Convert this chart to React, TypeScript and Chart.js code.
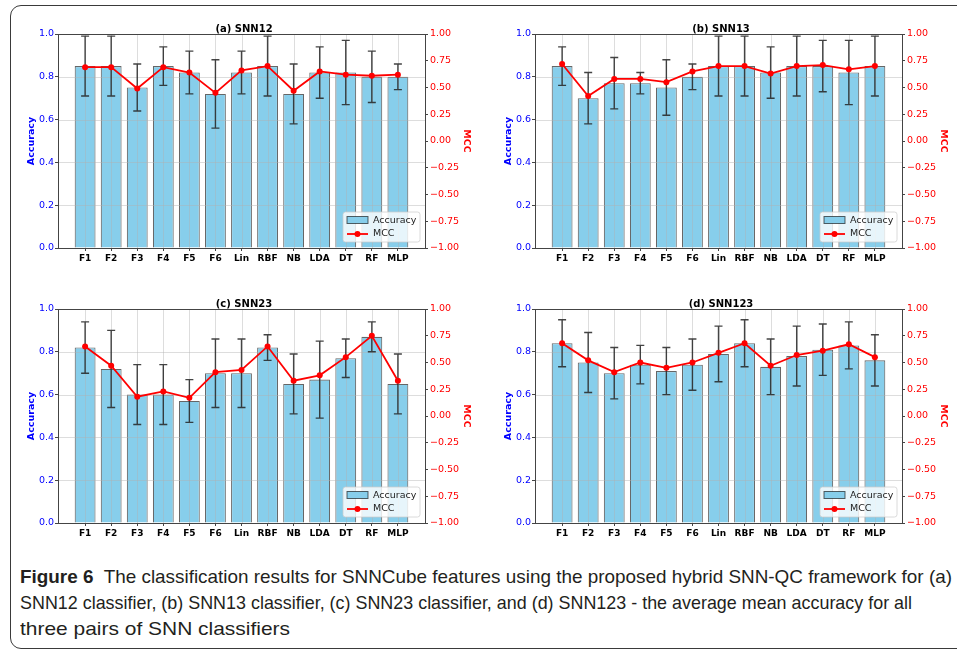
import React, { useEffect, useLayoutEffect, useRef } from 'react';
import { Chart, registerables } from 'chart.js';

Chart.register(...registerables);

// ---------------- data ----------------
const categories = ['F1', 'F2', 'F3', 'F4', 'F5', 'F6', 'Lin', 'RBF', 'NB', 'LDA', 'DT', 'RF', 'MLP'];

const accSNN12 = [0.85, 0.85, 0.75, 0.85, 0.82, 0.72, 0.82, 0.85, 0.72, 0.82, 0.82, 0.80, 0.80];
const errSNN12 = [0.14, 0.14, 0.11, 0.09, 0.10, 0.16, 0.10, 0.14, 0.14, 0.12, 0.15, 0.12, 0.06];
const mccSNN12 = [0.69, 0.69, 0.49, 0.69, 0.64, 0.45, 0.66, 0.70, 0.47, 0.65, 0.62, 0.61, 0.62];

const accSNN13 = [0.85, 0.70, 0.77, 0.77, 0.75, 0.80, 0.85, 0.85, 0.82, 0.85, 0.85, 0.82, 0.85];
const errSNN13 = [0.09, 0.12, 0.12, 0.05, 0.13, 0.06, 0.14, 0.14, 0.12, 0.14, 0.12, 0.15, 0.14];
const mccSNN13 = [0.72, 0.42, 0.58, 0.58, 0.55, 0.65, 0.70, 0.70, 0.63, 0.70, 0.71, 0.67, 0.70];

const accSNN23 = [0.82, 0.72, 0.60, 0.60, 0.57, 0.70, 0.70, 0.82, 0.65, 0.67, 0.77, 0.87, 0.65];
const errSNN23 = [0.12, 0.18, 0.14, 0.14, 0.10, 0.16, 0.16, 0.06, 0.14, 0.18, 0.09, 0.07, 0.14];
const mccSNN23 = [0.65, 0.47, 0.18, 0.23, 0.17, 0.41, 0.43, 0.65, 0.33, 0.38, 0.55, 0.75, 0.33];

const accSNN123 = [0.84, 0.75, 0.70, 0.74, 0.71, 0.74, 0.79, 0.84, 0.73, 0.78, 0.81, 0.83, 0.76];
const errSNN123 = [0.11, 0.14, 0.12, 0.09, 0.11, 0.12, 0.13, 0.11, 0.13, 0.14, 0.12, 0.11, 0.12];
const mccSNN123 = [0.68, 0.52, 0.41, 0.50, 0.45, 0.50, 0.59, 0.68, 0.47, 0.57, 0.61, 0.67, 0.55];

const panelTitles = ['(a) SNN12', '(b) SNN13', '(c) SNN23', '(d) SNN123'];
const seriesNames = ['Accuracy', 'MCC'];
const leftAxisTitle = 'Accuracy';
const rightAxisTitle = 'MCC';

const captionBold = 'Figure 6';
const captionLines = [
  '  The classification results for SNNCube features using the proposed hybrid SNN-QC framework for (a)',
  'SNN12 classifier, (b) SNN13 classifier, (c) SNN23 classifier, and (d) SNN123 - the average mean accuracy for all',
  'three pairs of SNN classifiers',
];

// ---------------- styling ----------------
const FONT = "'DejaVu Sans', sans-serif";
const BAR_FILL = '#87CEEB';
const BAR_EDGE = 'rgba(0,0,0,0.6)';
const GRID = 'rgba(176,176,176,0.55)';
const SPINE = '#444444';

// grid (above bars) + error bars, drawn right after the bar dataset
const errorBarPlugin = {
  id: 'errbars',
  afterDatasetDraw(chart: any, args: any) {
    if (args.index !== 0) return;
    const { ctx, chartArea, scales } = chart;
    const xs = scales.x;
    const ys = scales.y;
    ctx.save();
    ctx.beginPath();
    ctx.rect(chartArea.left, chartArea.top, chartArea.right - chartArea.left, chartArea.bottom - chartArea.top);
    ctx.clip();
    ctx.strokeStyle = GRID;
    ctx.lineWidth = 0.8;
    xs.ticks.forEach((t: any) => {
      const px = Math.round(xs.getPixelForValue(t.value)) + 0.5;
      ctx.beginPath();
      ctx.moveTo(px, chartArea.top);
      ctx.lineTo(px, chartArea.bottom);
      ctx.stroke();
    });
    ys.ticks.forEach((t: any) => {
      const py = Math.round(ys.getPixelForValue(t.value)) + 0.5;
      ctx.beginPath();
      ctx.moveTo(chartArea.left, py);
      ctx.lineTo(chartArea.right, py);
      ctx.stroke();
    });
    ctx.restore();

    const ds = chart.data.datasets[0];
    const errs: number[] = ds.errors;
    ctx.save();
    ctx.strokeStyle = 'rgba(35,35,35,0.85)';
    ctx.lineWidth = 1.4;
    ds.data.forEach((p: any, i: number) => {
      const px = xs.getPixelForValue(p.x);
      const yTop = ys.getPixelForValue(p.y + errs[i]);
      const yBot = ys.getPixelForValue(p.y - errs[i]);
      ctx.beginPath();
      ctx.moveTo(px, yTop);
      ctx.lineTo(px, yBot);
      ctx.moveTo(px - 4, yTop);
      ctx.lineTo(px + 4, yTop);
      ctx.moveTo(px - 4, yBot);
      ctx.lineTo(px + 4, yBot);
      ctx.stroke();
    });
    ctx.restore();
  },
};

// spines + matplotlib-like legend box
const frameLegendPlugin = {
  id: 'frameLegend',
  afterDraw(chart: any) {
    const { ctx, chartArea } = chart;
    const { left, right, top, bottom } = chartArea;
    ctx.save();
    ctx.strokeStyle = SPINE;
    ctx.lineWidth = 1;
    ctx.strokeRect(Math.round(left) + 0.5, Math.round(top) + 0.5, Math.round(right - left), Math.round(bottom - top));

    const w = 77;
    const h = 30;
    const x0 = right - 5 - w;
    const y0 = bottom - 6 - h;
    ctx.beginPath();
    (ctx as any).roundRect(x0, y0, w, h, 2.5);
    ctx.fillStyle = 'rgba(255,255,255,0.8)';
    ctx.fill();
    ctx.strokeStyle = 'rgba(204,204,204,0.9)';
    ctx.lineWidth = 0.8;
    ctx.stroke();

    const labels = chart.data.datasets.map((d: any) => d.label);
    // bar patch
    ctx.fillStyle = BAR_FILL;
    ctx.fillRect(x0 + 4, y0 + 4.5, 21, 7);
    ctx.strokeStyle = BAR_EDGE;
    ctx.lineWidth = 1;
    ctx.strokeRect(x0 + 4, y0 + 4.5, 21, 7);
    // line + marker
    ctx.strokeStyle = 'red';
    ctx.lineWidth = 1.8;
    ctx.beginPath();
    ctx.moveTo(x0 + 4, y0 + 22);
    ctx.lineTo(x0 + 25, y0 + 22);
    ctx.stroke();
    ctx.fillStyle = 'red';
    ctx.beginPath();
    ctx.arc(x0 + 14.5, y0 + 22, 3, 0, Math.PI * 2);
    ctx.fill();

    ctx.fillStyle = '#222';
    ctx.font = `9.5px ${FONT}`;
    ctx.textBaseline = 'middle';
    ctx.textAlign = 'left';
    ctx.fillText(labels[0], x0 + 30, y0 + 8.5);
    ctx.fillText(labels[1], x0 + 30, y0 + 22);
    ctx.restore();
  },
};

function Panel({ title, acc, err, mcc, left, top }: any) {
  const ref = useRef<HTMLCanvasElement>(null);
  useEffect(() => {
    const chart = new Chart(ref.current as HTMLCanvasElement, {
      type: 'bar',
      data: {
        datasets: [
          {
            type: 'bar',
            label: seriesNames[0],
            data: acc.map((v: number, i: number) => ({ x: i, y: v })),
            errors: err,
            backgroundColor: BAR_FILL,
            borderColor: BAR_EDGE,
            borderWidth: 1.1,
            categoryPercentage: 1,
            barPercentage: 0.8,
            xAxisID: 'x',
            yAxisID: 'y',
            order: 1,
          } as any,
          {
            type: 'line',
            label: seriesNames[1],
            data: mcc.map((v: number, i: number) => ({ x: i, y: v })),
            borderColor: 'red',
            backgroundColor: 'red',
            borderWidth: 1.8,
            pointRadius: 3,
            pointBorderWidth: 0,
            pointBackgroundColor: 'red',
            tension: 0,
            xAxisID: 'x',
            yAxisID: 'y1',
            order: 0,
          } as any,
        ],
      },
      options: {
        responsive: false,
        maintainAspectRatio: false,
        animation: false,
        events: [],
        layout: { padding: 0 },
        font: { family: FONT },
        plugins: {
          legend: { display: false },
          tooltip: { enabled: false },
          title: {
            display: true,
            text: title,
            color: '#000',
            font: { family: FONT, size: 10, weight: 'bold' },
            padding: { top: 11, bottom: -1 },
          },
        },
        scales: {
          x: {
            type: 'linear',
            min: -1.04,
            max: 13.04,
            offset: false,
            afterBuildTicks: (s: any) => {
              s.ticks = categories.map((_, i) => ({ value: i }));
            },
            afterFit: (s: any) => {
              s.height = 28;
            },
            ticks: {
              autoSkip: false,
              maxRotation: 0,
              padding: 2,
              color: '#000',
              font: { family: FONT, size: 9, weight: 'bold' },
              callback: (v: any) => categories[Math.round(v)],
            },
            grid: { offset: false, drawOnChartArea: false, tickLength: 3, tickColor: SPINE },
            border: { display: false },
          },
          y: {
            position: 'left',
            min: 0,
            max: 1,
            afterFit: (s: any) => {
              s.width = 48;
            },
            ticks: {
              stepSize: 0.2,
              padding: 1,
              color: 'blue',
              font: { family: FONT, size: 9.5 },
              callback: (v: any) => Number(v).toFixed(1),
            },
            grid: { drawOnChartArea: false, tickLength: 3, tickColor: SPINE },
            border: { display: false },
            title: {
              display: true,
              text: leftAxisTitle,
              color: 'blue',
              font: { family: FONT, size: 9.5, weight: 'bold' },
              padding: { top: 16.3, bottom: 0 },
            },
          },
          y1: {
            position: 'right',
            min: -1,
            max: 1,
            afterFit: (s: any) => {
              s.width = 53;
            },
            ticks: {
              stepSize: 0.25,
              padding: 2,
              color: 'red',
              font: { family: FONT, size: 9.5 },
              callback: (v: any) => Number(v).toFixed(2).replace('-', '\u2212'),
            },
            grid: { drawOnChartArea: false, tickLength: 3, tickColor: SPINE },
            border: { display: false },
            title: {
              display: true,
              text: rightAxisTitle,
              color: 'red',
              font: { family: FONT, size: 9.5, weight: 'bold' },
              padding: { top: 6.3, bottom: 0 },
            },
          },
        },
      } as any,
      plugins: [errorBarPlugin, frameLegendPlugin],
    });
    return () => chart.destroy();
  }, []);
  return (
    <canvas
      ref={ref}
      width={468}
      height={264}
      style={{ position: 'absolute', left, top, width: 468, height: 264 }}
    />
  );
}

function Caption() {
  const refs = useRef<(HTMLDivElement | null)[]>([]);
  const targetWidths = [932, 892, 270];
  useLayoutEffect(() => {
    refs.current.forEach((el, i) => {
      if (!el) return;
      el.style.transform = 'none';
      const w = el.getBoundingClientRect().width;
      if (w > 0) el.style.transform = `scaleX(${targetWidths[i] / w})`;
    });
  }, []);
  const base: React.CSSProperties = {
    position: 'absolute',
    left: 20,
    whiteSpace: 'pre',
    fontFamily: "'Liberation Sans', Arial, sans-serif",
    fontSize: 19,
    lineHeight: '26px',
    color: '#231f20',
    transformOrigin: 'left center',
  };
  return (
    <>
      {captionLines.map((line, i) => (
        <div
          key={i}
          ref={(el) => {
            refs.current[i] = el;
          }}
          style={{ ...base, top: 564 + i * 26 }}
        >
          {i === 0 ? <b>{captionBold}</b> : null}
          {line}
        </div>
      ))}
    </>
  );
}

export default function App() {
  return (
    <div
      style={{
        position: 'absolute',
        left: 0,
        top: 0,
        width: 957,
        height: 651,
        overflow: 'hidden',
        background: '#fff',
      }}
    >
      <div
        style={{
          position: 'absolute',
          left: 10,
          top: 5,
          width: 1000,
          height: 642,
          border: '1.5px solid #3a3a3a',
          borderRadius: 11,
        }}
      />
      <Panel title={panelTitles[0]} acc={accSNN12} err={errSNN12} mcc={mccSNN12} left={10} top={12} />
      <Panel title={panelTitles[1]} acc={accSNN13} err={errSNN13} mcc={mccSNN13} left={487} top={12} />
      <Panel title={panelTitles[2]} acc={accSNN23} err={errSNN23} mcc={mccSNN23} left={10} top={287} />
      <Panel title={panelTitles[3]} acc={accSNN123} err={errSNN123} mcc={mccSNN123} left={487} top={287} />
      <Caption />
    </div>
  );
}
